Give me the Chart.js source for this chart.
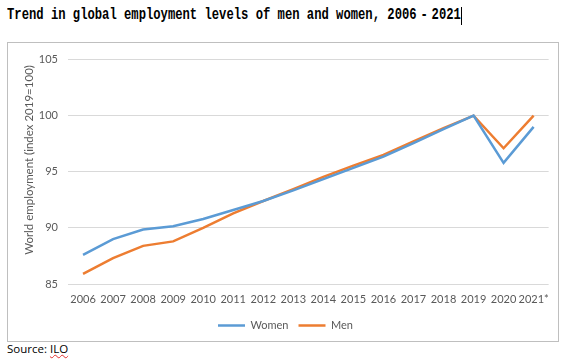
<!DOCTYPE html>
<html>
<head>
<meta charset="utf-8">
<script src="https://cdn.jsdelivr.net/npm/chart.js@4/dist/chart.umd.min.js"></script>
<style>
  html, body { margin: 0; padding: 0; background: #fff; width: 569px; height: 359px; overflow: hidden; }
  #title { position: absolute; left: 7px; top: 6px; font-family: "Liberation Mono", monospace; font-weight: bold; font-size: 12.2px; color: #000; white-space: nowrap; transform: scaleY(1.3); transform-origin: top left; }
  #title .dash { display: inline-block; width: 15px; text-align: center; }
  #cursor { position: absolute; left: 461px; top: 7px; width: 1px; height: 18px; background: #000; }
  #frame { position: absolute; left: 7px; top: 42px; width: 550px; height: 298px; border: 1px solid #bfbfbf; }
  #frame canvas { position: absolute; left: 0; top: 0; }
  #source { position: absolute; left: 7px; top: 342px; font-family: "Open Sans", sans-serif; font-weight: normal; font-size: 11.5px; line-height: 14px; color: #000; }
  #source .sq { text-decoration: underline wavy #e03030; text-decoration-thickness: 1px; text-underline-offset: 1px; }
</style>
</head>
<body>
<div id="title">Trend in global employment levels of men and women, 2006<span class="dash">-</span>2021</div>
<div id="cursor"></div>
<div id="frame"><canvas id="c" width="550" height="298"></canvas></div>
<div id="source">Source: <span class="sq">ILO</span></div>
<script>
const years = ["2006","2007","2008","2009","2010","2011","2012","2013","2014","2015","2016","2017","2018","2019","2020","2021*"];
const women = [87.6, 89.0, 89.85, 90.15, 90.8, 91.6, 92.4, 93.35, 94.35, 95.35, 96.35, 97.55, 98.8, 100.0, 95.8, 99.0];
const men   = [85.9, 87.3, 88.4, 88.8, 90.0, 91.3, 92.4, 93.45, 94.55, 95.55, 96.5, 97.7, 98.9, 100.0, 97.1, 100.0];
const yTicks = [85, 90, 95, 100, 105];
const yTitle = 'World employment (index 2019=100)';

const tickFont = { family: "Lato, 'Open Sans', sans-serif", size: 11 };

const yTitlePlugin = {
  id: 'yTitle',
  afterDraw(chart) {
    const ctx = chart.ctx;
    ctx.save();
    ctx.translate(21, 117);
    ctx.rotate(-Math.PI / 2);
    ctx.font = "11.5px Lato, 'Open Sans', sans-serif";
    ctx.fillStyle = '#595959';
    ctx.textAlign = 'center';
    ctx.textBaseline = 'middle';
    ctx.fillText(yTitle, 0, 0);
    ctx.restore();
  }
};

new Chart(document.getElementById('c'), {
  type: 'line',
  data: {
    labels: years,
    datasets: [
      { label: 'Women', data: women, borderColor: '#5B9BD5', backgroundColor: '#5B9BD5', borderWidth: 2.5, pointRadius: 0, tension: 0 },
      { label: 'Men', data: men, borderColor: '#ED7D31', backgroundColor: '#ED7D31', borderWidth: 2.5, pointRadius: 0, tension: 0 }
    ]
  },
  plugins: [yTitlePlugin],
  options: {
    responsive: false,
    animation: false,
    layout: { padding: { left: 14, top: 10, right: 9, bottom: 0 } },
    plugins: {
      legend: {
        position: 'bottom',
        labels: {
          usePointStyle: true,
          pointStyle: 'line',
          pointStyleWidth: 27,
          boxHeight: 11,
          color: '#595959',
          font: tickFont,
          padding: 10
        }
      },
      tooltip: { enabled: false }
    },
    scales: {
      x: {
        offset: true,
        grid: { display: false, drawTicks: false },
        border: { display: false },
        ticks: { color: '#595959', font: tickFont, padding: 9, maxRotation: 0, autoSkip: false },
        afterFit: s => { s.height = 26; }
      },
      y: {
        min: 85, max: 105,
        afterBuildTicks: s => { s.ticks = yTicks.map(v => ({ value: v })); },
        grid: { color: '#d9d9d9', lineWidth: 1, drawTicks: false },
        border: { display: false },
        ticks: { color: '#595959', font: tickFont, padding: 10 },
        afterFit: s => { s.width = 46; }
      }
    }
  }
});
</script>
</body>
</html>
